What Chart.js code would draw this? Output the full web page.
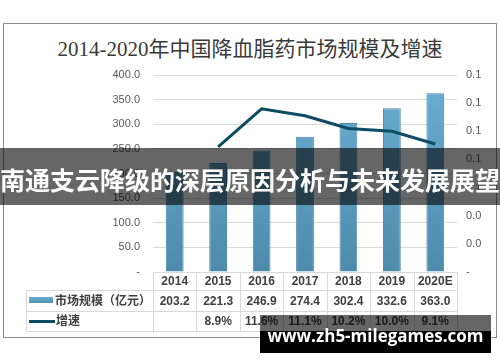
<!DOCTYPE html>
<html>
<head>
<meta charset="utf-8">
<script src="https://cdn.jsdelivr.net/npm/chart.js@4"></script>
<style>
  html, body { margin: 0; padding: 0; background: #fff; }
  #wrap { position: relative; width: 500px; height: 362px; overflow: hidden; }
  #frame { position: absolute; left: 3px; top: 23px; width: 492px; height: 313px; border: 1px solid #8c8c8c; }
  #title { position: absolute; left: 0; top: 32px; width: 500px; text-align: center;
           font: 21px "Liberation Serif", "Noto Sans CJK SC", serif; color: #3a3a3a; }
  canvas { position: absolute; left: 0; top: 0; }
  #banner { position: absolute; left: 0; top: 148px; width: 500px; height: 57px; background: rgba(0,0,0,0.6);
            color: #fff; font: bold 25px "Noto Sans CJK SC", sans-serif; line-height: 57px; text-align: center;
            white-space: nowrap; padding-top: 3px; box-sizing: border-box; }
  #mark1 { position: absolute; left: 260px; top: 315px; width: 231px; height: 16px; background: rgba(0,0,0,0.6); }
  #mark2 { position: absolute; left: 260px; top: 331px; width: 231px; height: 22px; background: #000; }
  #marktext { position: absolute; left: 260px; top: 325px; width: 231px; text-align: center; color: #fff;
              font: bold 17px "Open Sans", sans-serif; line-height: 22px; white-space: nowrap; }
</style>
</head>
<body>
<div id="wrap">
  <div id="frame"></div>
  <div id="title">2014-2020年中国降血脂药市场规模及增速</div>
  <canvas id="c" width="500" height="362"></canvas>
  <div id="banner">南通支云降级的深层原因分析与未来发展展望</div>
  <div id="mark1"></div>
  <div id="mark2"></div>
  <div id="marktext">www.zh5-milegames.com</div>
</div>
<script>
// 数据
const years = ['2014', '2015', '2016', '2017', '2018', '2019', '2020E'];
const marketSize = [203.2, 221.3, 246.9, 274.4, 302.4, 332.6, 363.0];
const growthRate = [null, 0.089, 0.116, 0.111, 0.102, 0.100, 0.091];
const growthLabels = ['', '8.9%', '11.6%', '11.1%', '10.2%', '10.0%', '9.1%'];
const sizeName = '市场规模（亿元）';
const growthName = '增速';

const barTop = '#6aafd4';
const barBottom = '#4e8bab';
const lineColor = '#0d4c62';
const tableFont = 'bold 12px "Liberation Sans", "Noto Sans CJK SC", sans-serif';

// 表格（数据表）绘制插件
const dataTablePlugin = {
    id: 'dataTable',
    afterDraw(chart) {
        const ctx = chart.ctx;
        const x = chart.scales.x;
        const top = chart.chartArea.bottom;
        const colW = (x.right - x.left) / years.length;
        const rowH = [18, 21, 20];
        const y1 = top + rowH[0];
        const y2 = y1 + rowH[1];
        const y3 = y2 + rowH[2];
        const legendLeft = 26;

        ctx.save();
        ctx.strokeStyle = '#d9d9d9';
        ctx.lineWidth = 1;
        ctx.beginPath();
        ctx.moveTo(x.left, top + 0.5); ctx.lineTo(x.right, top + 0.5);
        [y1, y2, y3].forEach(yy => {
            ctx.moveTo(legendLeft, yy + 0.5); ctx.lineTo(x.right, yy + 0.5);
        });
        for (let i = 0; i <= years.length; i++) {
            const xx = Math.round(x.left + i * colW) + 0.5;
            ctx.moveTo(xx, top); ctx.lineTo(xx, y3);
        }
        ctx.moveTo(legendLeft + 0.5, y1); ctx.lineTo(legendLeft + 0.5, y3);
        ctx.stroke();

        ctx.fillStyle = '#404040';
        ctx.font = tableFont;
        ctx.textAlign = 'center';
        ctx.textBaseline = 'middle';
        years.forEach((yr, i) => {
            const cx = x.getPixelForValue(i);
            ctx.fillText(yr, cx, top + rowH[0] / 2 + 1);
            ctx.fillText(marketSize[i].toFixed(1), cx, y1 + rowH[1] / 2 + 1);
            ctx.fillText(growthLabels[i], cx, y2 + rowH[2] / 2 + 1);
        });

        // 图例
        const g = ctx.createLinearGradient(0, y1 + 7, 0, y1 + 14);
        g.addColorStop(0, barTop);
        g.addColorStop(1, barBottom);
        ctx.fillStyle = g;
        ctx.fillRect(29, y1 + 7, 24, 6);
        ctx.strokeStyle = lineColor;
        ctx.lineWidth = 3;
        ctx.beginPath();
        ctx.moveTo(29, y2 + 10.5); ctx.lineTo(55, y2 + 10.5);
        ctx.stroke();

        ctx.fillStyle = '#404040';
        ctx.textAlign = 'left';
        ctx.fillText(sizeName, 55, y1 + rowH[1] / 2 + 1);
        ctx.fillText(growthName, 56, y2 + rowH[2] / 2 + 1);
        ctx.restore();
    }
};

const ctx = document.getElementById('c').getContext('2d');
new Chart(ctx, {
    data: {
        labels: years,
        datasets: [{
            type: 'line',
            label: growthName,
            data: growthRate,
            yAxisID: 'y1',
            borderColor: lineColor,
            borderWidth: 3,
            pointRadius: 0,
            tension: 0,
            order: 0
        }, {
            type: 'bar',
            label: sizeName,
            data: marketSize,
            yAxisID: 'y',
            backgroundColor: (c) => {
                const area = c.chart.chartArea;
                if (!area) return barTop;
                const g = c.chart.ctx.createLinearGradient(0, area.top, 0, area.bottom);
                g.addColorStop(0, barTop);
                g.addColorStop(1, barBottom);
                return g;
            },
            borderColor: '#4a86a8',
            borderWidth: 1,
            categoryPercentage: 1,
            barPercentage: 0.41,
            order: 1
        }]
    },
    options: {
        responsive: false,
        animation: false,
        layout: { padding: { left: 100, right: 0, top: 75, bottom: 90 } },
        plugins: {
            legend: { display: false },
            tooltip: { enabled: false }
        },
        scales: {
            x: {
                grid: { display: false },
                border: { display: false },
                ticks: { display: false },
                afterFit: (s) => { s.height = 0; }
            },
            y: {
                position: 'left',
                min: 0,
                max: 400,
                ticks: {
                    stepSize: 50,
                    padding: 13,
                    color: '#595959',
                    font: { family: '"Liberation Sans", sans-serif', size: 11 },
                    callback: (v) => v === 0 ? '-' : v.toFixed(1)
                },
                grid: {
                    color: (c) => c.tick.value === 0 ? 'rgba(0,0,0,0)' : '#d9d9d9',
                    drawTicks: false
                },
                border: { display: false },
                afterFit: (s) => { s.width = 53; }
            },
            y1: {
                position: 'right',
                min: 0,
                max: 0.14,
                ticks: {
                    stepSize: 0.02,
                    padding: 9,
                    color: '#595959',
                    font: { family: '"Liberation Sans", sans-serif', size: 11 },
                    callback: (v) => v === 0 ? '-' : v.toFixed(1)
                },
                grid: { display: false, drawTicks: false },
                border: { display: false },
                afterFit: (s) => { s.width = 43; }
            }
        }
    },
    plugins: [dataTablePlugin]
});
</script>
</body>
</html>
